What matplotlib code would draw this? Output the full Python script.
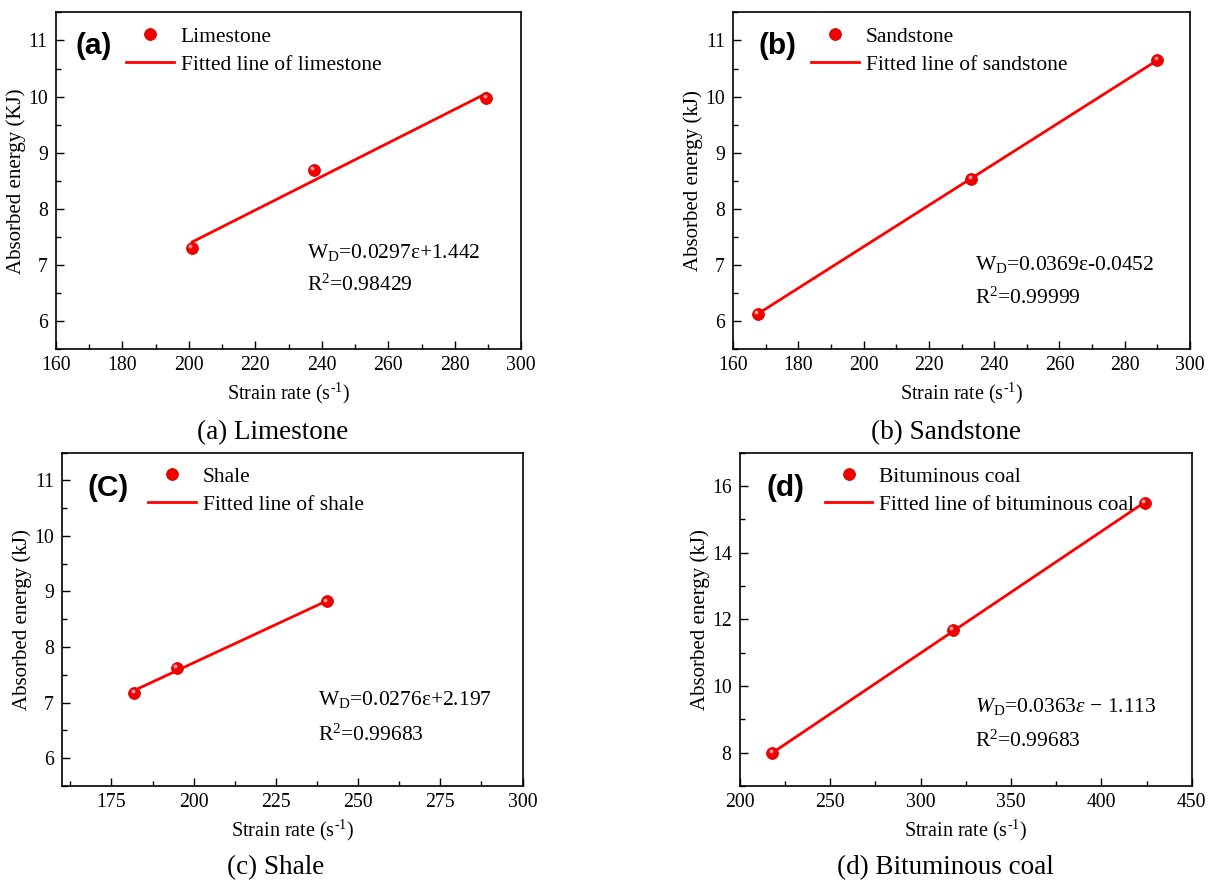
import numpy as np
import matplotlib
matplotlib.use('Agg')
import matplotlib.pyplot as plt
from matplotlib.ticker import MultipleLocator
from matplotlib.transforms import ScaledTranslation

plt.rcParams['font.family'] = ['Liberation Serif', 'DejaVu Serif']
plt.rcParams['mathtext.fontset'] = 'custom'
plt.rcParams['mathtext.rm'] = 'Liberation Serif'
plt.rcParams['mathtext.it'] = 'Liberation Serif:italic'

# Data
lime_rate = [201.0, 237.5, 289.5]
lime_energy = [7.30, 8.69, 9.98]

sand_rate = [167.5, 233.0, 290.0]
sand_energy = [6.13, 8.54, 10.65]

shale_rate = [182.0, 195.0, 240.5]
shale_energy = [7.18, 7.63, 8.82]

coal_rate = [218.0, 318.0, 424.0]
coal_energy = [7.98, 11.67, 15.50]

names = ['Limestone', 'Sandstone', 'Shale', 'Bituminous coal']
tags = ['(a)', '(b)', '(C)', '(d)']
captions = ['(a) Limestone', '(b) Sandstone', '(c) Shale', '(d) Bituminous coal']
ylabels = ['Absorbed energy (KJ)', 'Absorbed energy (kJ)',
           'Absorbed energy (kJ)', 'Absorbed energy (kJ)']
equations = [r'W$_\mathregular{D}$=0.0297ε+1.442',
             r'W$_\mathregular{D}$=0.0369ε-0.0452',
             r'W$_\mathregular{D}$=0.0276ε+2.197',
             r'$W$$_\mathregular{D}$=0.0363$\varepsilon$ $-$ 1.113']
r_squared = [r'R$^\mathregular{2}$=0.98429', r'R$^\mathregular{2}$=0.99999',
             r'R$^\mathregular{2}$=0.99683', r'R$^\mathregular{2}$=0.99683']

rates = [lime_rate, sand_rate, shale_rate, coal_rate]
energies = [lime_energy, sand_energy, shale_energy, coal_energy]

fig = plt.figure(figsize=(12.18, 8.84), dpi=100)
rects = [[0.046, 0.605, 0.382, 0.381],
         [0.602, 0.605, 0.375, 0.381],
         [0.051, 0.111, 0.378, 0.377],
         [0.6075, 0.111, 0.371, 0.377]]
xlims = [(160, 300), (160, 300), (160, 300), (200, 450)]
ylims = [(5.5, 11.5), (5.5, 11.5), (5.5, 11.5), (7, 17)]
xmaj = [20, 20, 25, 50]
ymaj = [1, 1, 1, 2]
legend_x = [0.151, 0.171, 0.187, 0.188]
tag_pos = [(0.081, 0.90), (0.098, 0.90), (0.10, 0.895), (0.10, 0.895)]
eq_pos = [(0.54, 0.288), (0.53, 0.25), (0.555, 0.258), (0.52, 0.237)]
r2_pos = [(0.54, 0.19), (0.53, 0.15), (0.555, 0.153), (0.52, 0.135)]
cap_pos = [(0.224, 0.511), (0.777, 0.511), (0.226, 0.019), (0.776, 0.019)]

for i in range(4):
    ax = fig.add_axes(rects[i])
    x = np.array(rates[i])
    y = np.array(energies[i])
    k, b = np.polyfit(x, y, 1)
    ax.plot(x, y, 'o', color='#f20000', markeredgecolor='#d00000',
            markeredgewidth=0.6, markersize=8.5, label=names[i], zorder=3)
    # small glossy highlight on each ball
    shine = ax.transData + ScaledTranslation(-1.3 / 72, 1.3 / 72, fig.dpi_scale_trans)
    ax.plot(x, y, 'o', color='#ff9a9a', markeredgewidth=0, markersize=2.8,
            transform=shine, zorder=4)
    ax.plot(x, k * x + b, '-', color='#ff0000', linewidth=2,
            label='Fitted line of ' + names[i].lower(), zorder=2)

    ax.set_xlim(*xlims[i])
    ax.set_ylim(*ylims[i])
    ax.xaxis.set_major_locator(MultipleLocator(xmaj[i]))
    ax.xaxis.set_minor_locator(MultipleLocator(xmaj[i] / 2))
    ax.yaxis.set_major_locator(MultipleLocator(ymaj[i]))
    ax.yaxis.set_minor_locator(MultipleLocator(ymaj[i] / 2))
    ax.tick_params(which='both', direction='in', top=False, right=False,
                   labelsize=14.2, width=1)
    ax.tick_params(axis='x', which='major', pad=5)
    ax.tick_params(axis='y', which='major', pad=6)
    ax.tick_params(which='major', length=6)
    ax.tick_params(which='minor', length=3.5)
    for s in ax.spines.values():
        s.set_linewidth(1.2)

    ax.set_xlabel(r'Strain rate (s$^\mathregular{\text{-}1}$)', fontsize=14.5)
    ax.set_ylabel(ylabels[i], fontsize=15, labelpad=1.5)

    ax.legend(loc='upper left', bbox_to_anchor=(legend_x[i], 0.958),
              frameon=False, fontsize=15.5, borderpad=0, borderaxespad=0,
              handlelength=2.2, handletextpad=0.33, labelspacing=0.38)

    ax.text(tag_pos[i][0], tag_pos[i][1], tags[i], transform=ax.transAxes,
            family='Liberation Sans', fontweight='bold', fontsize=21.5,
            ha='center', va='center')
    ax.text(eq_pos[i][0], eq_pos[i][1], equations[i], transform=ax.transAxes,
            fontsize=15.5, ha='left', va='center')
    ax.text(r2_pos[i][0], r2_pos[i][1], r_squared[i], transform=ax.transAxes,
            fontsize=15.5, ha='left', va='center')

    fig.text(cap_pos[i][0], cap_pos[i][1], captions[i], fontsize=19.5,
             ha='center', va='center')

fig.savefig('out.png', dpi=100)
